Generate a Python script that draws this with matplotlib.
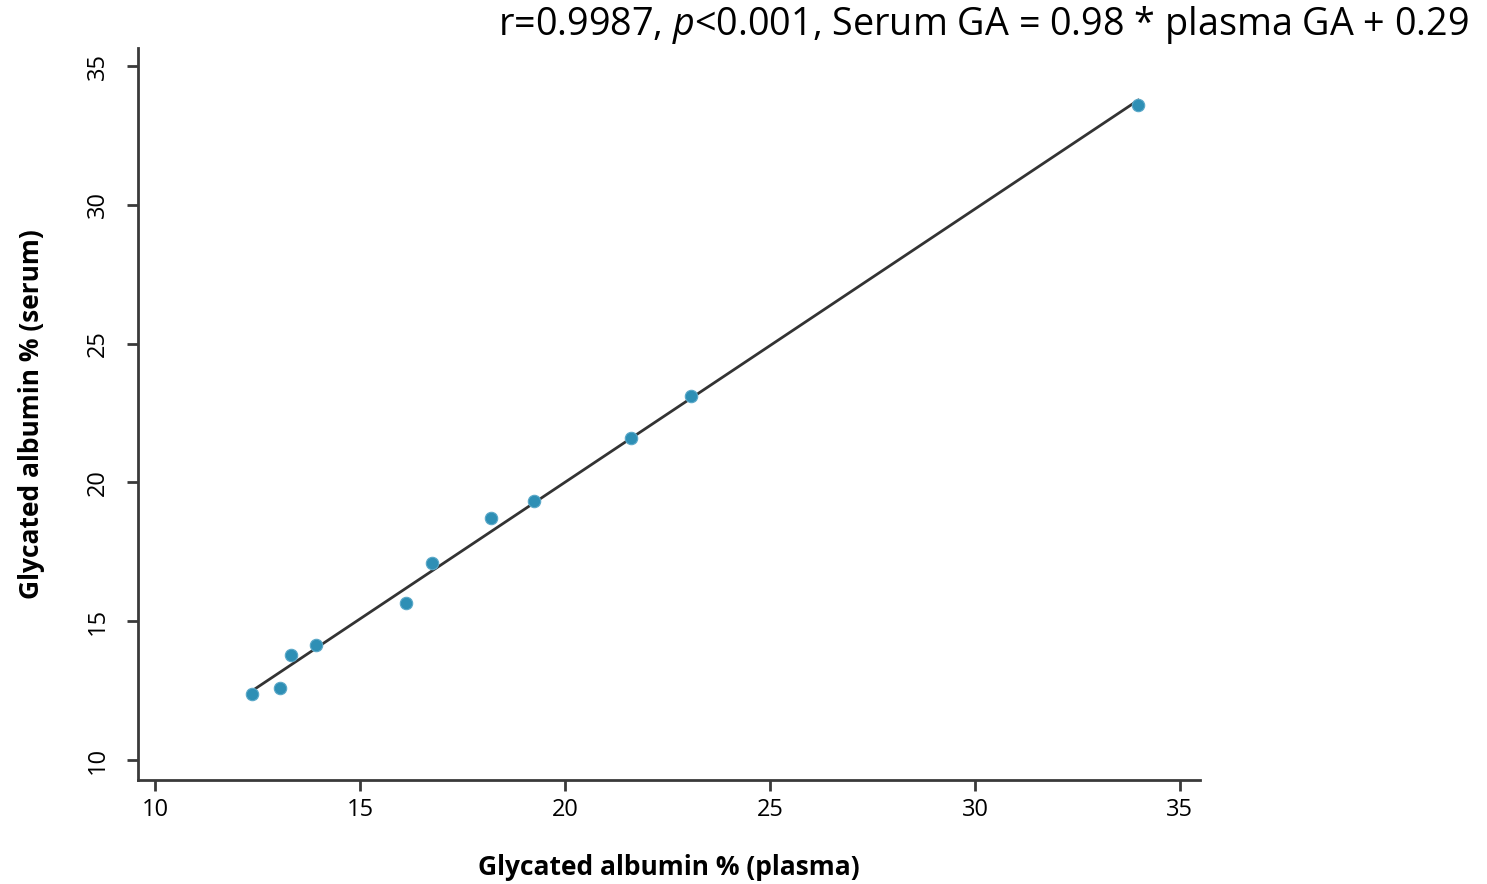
import numpy as np
import matplotlib
matplotlib.use("Agg")
import matplotlib.pyplot as plt

plasma_ga = [12.37, 13.05, 13.32, 13.93, 16.12, 16.76, 18.20, 19.24, 21.61, 23.07, 33.98]
serum_ga = [12.38, 12.59, 13.78, 14.14, 15.66, 17.10, 18.72, 19.33, 21.60, 23.11, 33.60]
x_ticks = [10, 15, 20, 25, 30, 35]
y_ticks = [10, 15, 20, 25, 30, 35]
title = "r=0.9987, $\\mathit{p}$<0.001, Serum GA = 0.98 * plasma GA + 0.29"

plt.rcParams['font.family'] = ['Open Sans', 'DejaVu Sans']
plt.rcParams['mathtext.fontset'] = 'custom'
plt.rcParams['mathtext.it'] = 'Open Sans:italic'
plt.rcParams['mathtext.rm'] = 'Open Sans'

fig = plt.figure(figsize=(14.87, 8.84), dpi=100)
ax = fig.add_axes([0.0928, 0.1176, 0.7142, 0.8281])

xs = np.array(plasma_ga)
ys = np.array(serum_ga)
slope, intercept = np.polyfit(xs, ys, 1)
lx = np.array([xs.min(), xs.max()])
ax.plot(lx, slope * lx + intercept, color='#333333', lw=2, zorder=2)
ax.scatter(xs, ys, s=80, color='#2e8fb5', edgecolors='#5aa8c8', linewidths=0.8, zorder=3)

ax.set_xlim(9.585, 35.49)
ax.set_ylim(9.28, 35.65)
ax.set_xticks(x_ticks)
ax.set_yticks(y_ticks)
ax.set_yticklabels([str(t) for t in y_ticks], rotation=90, va='center')
for s in ['top', 'right']:
    ax.spines[s].set_visible(False)
for s in ['left', 'bottom']:
    ax.spines[s].set_color('#3a3a3a')
    ax.spines[s].set_linewidth(2)
ax.tick_params(axis='both', direction='out', length=8, width=2, color='#3a3a3a',
               labelsize=17)
ax.tick_params(axis='x', pad=5)
ax.tick_params(axis='y', pad=12)

ax.set_xlabel("Glycated albumin % (plasma)", fontsize=19, fontweight='bold', labelpad=23)
ax.set_ylabel("Glycated albumin % (serum)", fontsize=19, fontweight='bold', labelpad=30)

fig.text(0.988, 0.972, title, fontsize=27.2, ha='right', va='center')

fig.savefig("out.png", dpi=100)
